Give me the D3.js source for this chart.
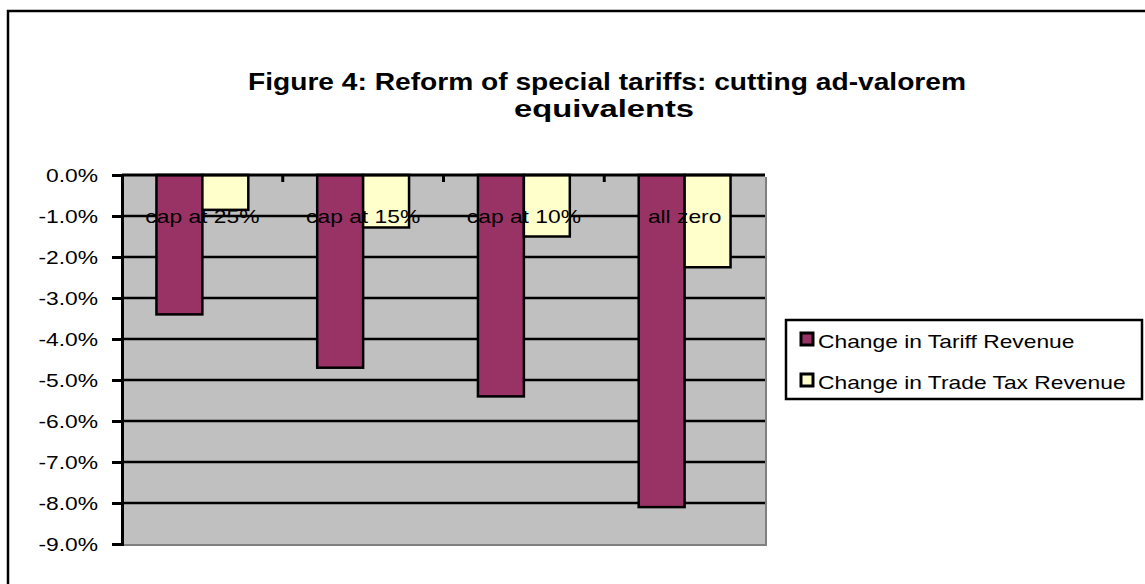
<!DOCTYPE html>
<html>
<head>
<meta charset="utf-8">
<script src="https://cdn.jsdelivr.net/npm/d3@7"></script>
<style>
  body { margin: 0; background: #fff; }
  text { font-family: Arial, "Liberation Sans", sans-serif; }
</style>
</head>
<body>
<div id="chart"></div>
<script>
// data (percent)
const categories = ['cap at 25%', 'cap at 15%', 'cap at 10%', 'all zero'];
const seriesNames = ['Change in Tariff Revenue', 'Change in Trade Tax Revenue'];
const tariffRevenue = [-3.4, -4.7, -5.4, -8.1];
const tradeTaxRevenue = [-0.85, -1.28, -1.5, -2.25];
const yTicks = [0, -1, -2, -3, -4, -5, -6, -7, -8, -9];
const titleLines = ['Figure 4: Reform of special tariffs: cutting ad-valorem', 'equivalents'];
const colors = ['#993366', '#FFFFCC'];

const width = 1145, height = 584;
const plot = { left: 122, right: 765, top: 175, bottom: 544 };
const stretch = 1.2; // the original fonts are drawn wider than Arial

const svg = d3.select('#chart').append('svg')
    .attr('width', width)
    .attr('height', height);

// outer chart frame
svg.append('rect')
    .attr('x', 8).attr('y', 11)
    .attr('width', width).attr('height', height)
    .attr('fill', 'none').attr('stroke', '#000').attr('stroke-width', 2.5);

// title
svg.append('g')
    .selectAll('text')
    .data(titleLines)
    .join('text')
    .attr('x', (d, i) => i ? 604 : 607)
    .attr('y', (d, i) => 90 + i * 27)
    .attr('text-anchor', 'middle')
    .attr('font-size', 23).attr('font-weight', 'bold')
    .attr('textLength', (d, i) => i ? 180 : 718)
    .attr('lengthAdjust', 'spacingAndGlyphs')
    .attr('class', 'title')
    .text(d => d);

// scales
const x = d3.scaleBand().domain(categories).range([plot.left, plot.right]);
const bw = x.bandwidth();
const barW = bw / 3.5;
const xs = d3.scaleBand().domain(seriesNames).range([bw * 0.75 / 3.5, bw * 0.75 / 3.5 + 2 * barW]);
const y = d3.scaleLinear().domain([-9, 0]).range([plot.bottom, plot.top]);

// plot area with gray shadow
svg.append('rect')
    .attr('x', plot.left + 2).attr('y', plot.top + 2)
    .attr('width', plot.right - plot.left).attr('height', plot.bottom - plot.top)
    .attr('fill', '#808080');
svg.append('rect')
    .attr('x', plot.left).attr('y', plot.top)
    .attr('width', plot.right - plot.left).attr('height', plot.bottom - plot.top)
    .attr('fill', '#C0C0C0');

// gridlines
svg.append('g')
    .selectAll('line')
    .data(yTicks.filter(d => d !== 0 && d !== -9))
    .join('line')
    .attr('x1', plot.left).attr('x2', plot.right)
    .attr('y1', d => y(d)).attr('y2', d => y(d))
    .attr('stroke', '#000').attr('stroke-width', 2.5);

// bars
const rows = categories.map((c, i) => ({ cat: c, vals: [tariffRevenue[i], tradeTaxRevenue[i]] }));
svg.append('g')
    .selectAll('g')
    .data(rows)
    .join('g')
    .attr('transform', d => `translate(${x(d.cat)},0)`)
    .selectAll('rect')
    .data(d => d.vals.map((v, j) => ({ s: seriesNames[j], v, j })))
    .join('rect')
    .attr('x', d => xs(d.s))
    .attr('y', y(0))
    .attr('width', xs.bandwidth())
    .attr('height', d => y(d.v) - y(0))
    .attr('fill', d => colors[d.j])
    .attr('stroke', '#000').attr('stroke-width', 2.5);

// y axis
const yAxis = svg.append('g')
    .attr('transform', `translate(${plot.left},0)`)
    .call(d3.axisLeft(y).tickValues(yTicks).tickSize(10).tickPadding(14)
        .tickFormat(d => d3.format('.1f')(d).replace('\u2212', '-') + '%'));
yAxis.select('.domain').attr('stroke-width', 3);
yAxis.selectAll('.tick line').attr('stroke-width', 3);
yAxis.selectAll('text').attr('font-size', 19).attr('fill', '#000')
    .attr('font-family', 'Arial, "Liberation Sans", sans-serif');

// x axis on the zero line (ticks between categories)
svg.append('line')
    .attr('x1', plot.left).attr('x2', plot.right)
    .attr('y1', y(0)).attr('y2', y(0))
    .attr('stroke', '#000').attr('stroke-width', 3);
svg.append('g')
    .selectAll('line')
    .data(categories.slice(1))
    .join('line')
    .attr('x1', d => x(d)).attr('x2', d => x(d))
    .attr('y1', y(0)).attr('y2', y(0) + 7)
    .attr('stroke', '#000').attr('stroke-width', 3);

// category labels
svg.append('g')
    .selectAll('text')
    .data(categories)
    .join('text')
    .attr('x', d => x(d) + bw / 2)
    .attr('y', y(-1) + 7)
    .attr('text-anchor', 'middle')
    .attr('font-size', 19)
    .text(d => d);

// legend
const legend = svg.append('g');
legend.append('rect')
    .attr('x', 786).attr('y', 320).attr('width', 356).attr('height', 79)
    .attr('fill', '#fff').attr('stroke', '#000').attr('stroke-width', 2.5);
const items = legend.selectAll('g.item')
    .data(seriesNames)
    .join('g')
    .attr('class', 'item')
    .attr('transform', (d, i) => `translate(801,${333 + i * 41})`);
items.append('rect')
    .attr('width', 12).attr('height', 12)
    .attr('fill', (d, i) => colors[i])
    .attr('stroke', '#000').attr('stroke-width', 3);
items.append('text')
    .attr('x', 17).attr('y', 15)
    .attr('font-size', 19)
    .text(d => d);

// widen the text like the original rendering
svg.selectAll('text:not(.title)').each(function () {
    const len = this.getComputedTextLength();
    if (len > 0) {
        d3.select(this).attr('textLength', len * stretch).attr('lengthAdjust', 'spacingAndGlyphs');
    }
});
</script>
</body>
</html>
